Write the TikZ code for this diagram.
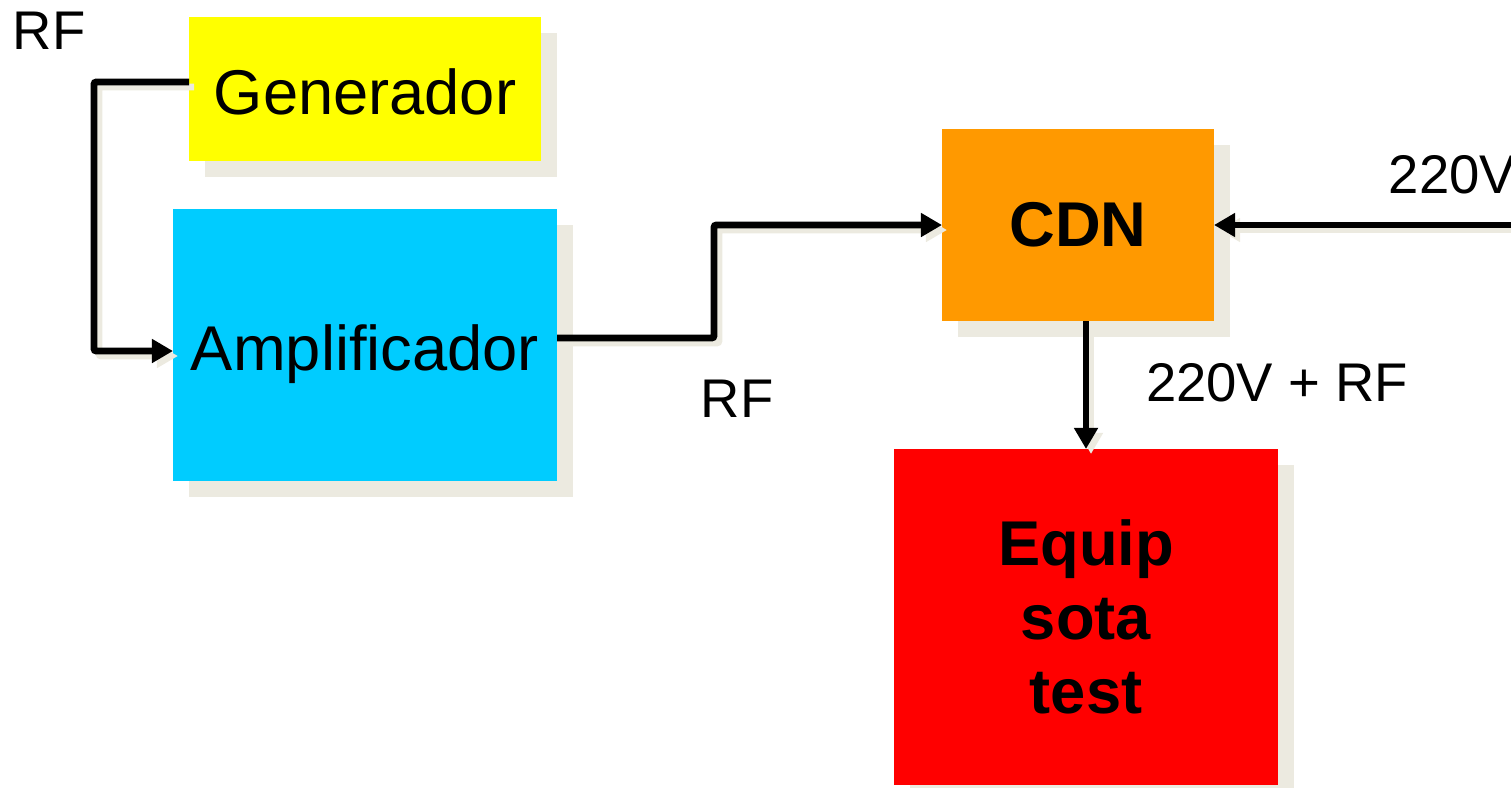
\documentclass[tikz,border=0pt]{standalone}
\usepackage{fontspec}
\setmainfont{Liberation Sans}
\usetikzlibrary{arrows.meta,shadows}
\definecolor{shadowc}{RGB}{236,234,224}
\definecolor{gencol}{RGB}{255,255,0}
\definecolor{ampcol}{RGB}{0,204,255}
\definecolor{cdncol}{RGB}{255,153,0}
\definecolor{eutcol}{RGB}{255,0,0}
\tikzset{
  blk/.style={inner sep=0pt, outer sep=0pt, font=\fontsize{18}{21}\selectfont,
    drop shadow={shadow xshift=0.16cm, shadow yshift=-0.16cm, fill=shadowc, opacity=1}},
  oneline/.style={text height=14.6pt, text depth=0pt},
  wire/.style={line width=1.9pt, -{Triangle[length=6pt,width=6.5pt]}, rounded corners=0.6pt},
  wireshade/.style={wire, draw=shadowc, transform canvas={xshift=0.05cm, yshift=-0.05cm}},
  lbl/.style={inner sep=0pt, font=\fontsize{15.5}{18}\selectfont},
}
\begin{document}
\begin{tikzpicture}
  \useasboundingbox (0,0) rectangle (15.11,7.87);

  \node[blk, oneline, fill=gencol, minimum width=3.52cm, minimum height=1.44cm] (gen) at (3.65,6.98) {Generador};
  \node[blk, oneline, fill=ampcol, minimum width=3.84cm, minimum height=2.72cm] (amp) at (3.65,4.42) {Amplificador};
  \node[blk, fill=cdncol, minimum width=2.72cm, minimum height=1.92cm, font=\fontsize{18}{21}\selectfont\bfseries] (cdn) at (10.78,5.62) {CDN};
  \node[blk, fill=eutcol, minimum width=3.84cm, minimum height=3.36cm, align=center, font=\fontsize{18}{21}\selectfont\bfseries] (eut) at (10.86,1.70) {Equip\\sota\\test};
  \coordinate (mains) at (15.11,5.62);

  \node[lbl] (rfgen) at (0.49,7.56) {RF};
  \node[lbl] (rfamp) at (7.37,3.88) {RF};
  \node[lbl, anchor=west] (ac) at (13.88,6.12) {220V};
  \node[lbl] (acrf) at (12.77,4.04) {220V + RF};

  \draw[wireshade] ([yshift=0.07cm]gen.west) -- ++(-0.95,0) |- ([yshift=-0.06cm]amp.west);
  \draw[wireshade] ([yshift=0.07cm]amp.east) -- ++(1.57,0) |- (cdn.west);
  \draw[wireshade] (mains) -- (cdn.east);
  \draw[wireshade] (eut.north |- cdn.south) -- (eut.north);

  \draw[wire] ([yshift=0.07cm]gen.west) -- ++(-0.95,0) |- ([yshift=-0.06cm]amp.west);
  \draw[wire] ([yshift=0.07cm]amp.east) -- ++(1.57,0) |- (cdn.west);
  \draw[wire] (mains) -- (cdn.east);
  \draw[wire] (eut.north |- cdn.south) -- (eut.north);
\end{tikzpicture}
\end{document}
